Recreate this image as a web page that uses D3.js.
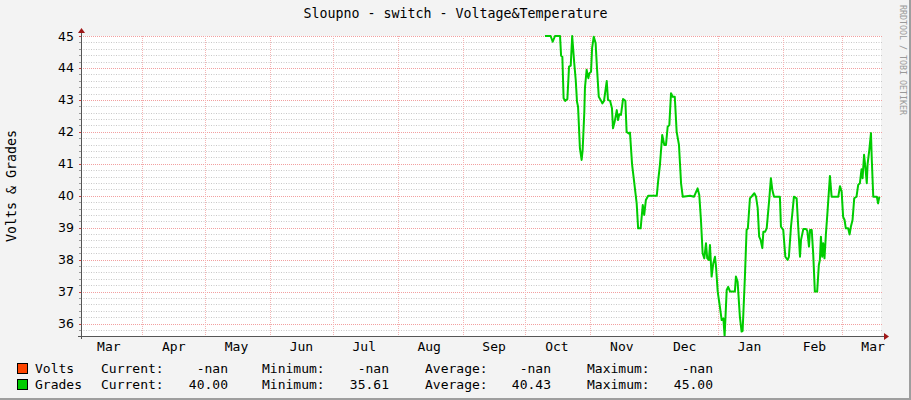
<!DOCTYPE html>
<html><head><meta charset="utf-8">
<script src="https://cdn.jsdelivr.net/npm/d3@7"></script>
<style>html,body{margin:0;padding:0;background:#F3F3F3;}svg{display:block;}</style>
</head><body><svg id="c" width="911" height="400"></svg>
<script>
// ---------- data ----------
const chartTitle = "Sloupno - switch - Voltage&Temperature";
const yAxisLabel = "Volts & Grades";
const watermark = "RRDTOOL / TOBI OETIKER";
const timeStart = "2018-03-02T17:00:00Z";
const timeEnd = "2019-03-19T19:00:00Z";
const seriesStart = "2018-10-01T00:00:00Z";
const yMin = 35.61, yMax = 45;
const yTickLabels = [36, 37, 38, 39, 40, 41, 42, 43, 44, 45];
// days since seriesStart
const gradesDays = [9.3,12.0,13.0,14.1,16.5,17.0,17.6,18.2,19.0,20.0,20.8,21.6,22.3,23.3,24.0,24.6,25.1,26.0,26.8,27.3,28.1,28.4,29.2,30.0,30.5,31.3,31.8,32.6,33.5,34.1,35.0,35.9,36.7,37.5,38.8,39.4,40.4,41.3,41.8,42.6,43.6,44.2,44.8,45.6,46.6,47.7,48.3,49.3,49.9,50.9,51.8,53.1,53.8,55.0,56.0,56.7,57.5,58.6,62.7,63.4,64.2,65.3,66.3,67.1,67.9,68.7,69.5,70.3,71.3,72.2,73.3,74.3,75.1,78.6,80.5,82.2,83.0,83.8,84.6,85.4,86.2,86.8,87.6,88.1,88.9,89.7,90.5,91.0,91.8,92.9,93.7,94.5,95.1,96.1,96.8,97.7,100.0,100.5,101.3,102.4,103.2,103.7,104.8,105.6,106.2,107.2,108.3,109.3,110.1,110.9,111.6,112.3,113.1,113.6,114.4,115.2,116.4,117.2,117.9,118.7,121.5,122.0,123.1,124.1,125.2,125.8,126.8,127.6,128.2,129.5,130.3,131.1,131.6,132.7,134.0,134.6,135.4,135.9,136.7,137.4,138.2,139.3,140.1,140.6,141.1,141.7,142.2,142.8,143.5,144.3,145.4,146.2,149.4,150.2,151.0,151.7,152.4,153.0,154.1,154.8,155.4,156.2,157.0,158.1,158.9,159.7,160.5,161.0,161.7,162.3,163.0,163.4,164.2,165.0,165.4,166.1,167.8,168.4,169.0];
const gradesValues = [45.0,45.0,44.82,45.0,45.0,44.38,44.35,43.05,42.97,43.03,44.04,44.07,45.0,44.14,43.62,42.94,42.79,41.48,41.12,41.43,42.63,43.38,43.94,43.68,43.83,43.88,44.61,44.98,44.77,44.04,43.1,43.0,42.89,42.97,43.59,43.0,42.97,42.74,42.11,42.32,42.68,42.37,42.55,42.53,43.03,42.97,42.0,41.95,41.98,40.98,40.49,39.76,38.98,38.98,39.71,39.4,39.87,40.0,40.0,40.49,40.96,41.9,41.59,41.59,42.16,42.21,43.21,43.1,43.1,42.0,41.59,40.39,39.97,40.0,39.97,40.23,40.02,39.24,38.2,38.04,38.51,38.04,37.99,38.46,37.47,37.89,38.09,37.78,37.0,36.5,36.11,36.16,35.61,37.05,37.15,37.0,37.0,37.47,37.31,36.21,35.75,35.77,37.47,38.93,38.98,39.92,40.0,40.08,39.97,39.61,38.72,38.62,38.36,38.87,38.87,38.98,39.87,40.55,40.18,39.97,39.97,39.03,38.93,38.09,37.99,38.09,39.03,39.55,39.97,39.92,38.98,38.09,38.62,38.96,38.96,38.9,38.41,38.93,38.93,38.2,37.0,37.0,37.83,37.99,38.72,38.09,38.51,38.04,38.82,39.55,40.62,39.97,39.97,40.3,40.13,39.34,39.24,38.98,38.98,38.79,39.03,39.24,39.92,39.97,40.34,40.39,40.83,40.55,41.28,40.91,40.39,41.0,41.43,41.96,41.12,39.97,39.97,39.76,39.97];
const legendNames = ["Volts", "Grades"];
const legendColors = ["#FF4500", "#00CC00"];
const legendCurrent = ["-nan", "40.00"];
const legendMinimum = ["-nan", "35.61"];
const legendAverage = ["-nan", "40.43"];
const legendMaximum = ["-nan", "45.00"];

// ---------- layout ----------
const svg = d3.select("#c");
const L = 81, T = 36, PW = 800, PH = 300;
const MONO = "'DejaVu Sans Mono', monospace";

const x = d3.scaleUtc().domain([new Date(timeStart), new Date(timeEnd)]).range([L, L + PW]);
const y = d3.scaleLinear().domain([yMin, yMax]).range([T + PH, T]);

// background + frame
svg.append("rect").attr("width", 911).attr("height", 400).attr("fill", "#F3F3F3");
svg.append("line").attr("x1", 0).attr("x2", 911).attr("y1", 399).attr("y2", 399).attr("stroke", "#9E9E9E").attr("stroke-width", 2);
svg.append("line").attr("x1", 910).attr("x2", 910).attr("y1", 0).attr("y2", 400).attr("stroke", "#9E9E9E").attr("stroke-width", 2);
svg.append("rect").attr("x", L).attr("y", T).attr("width", PW).attr("height", PH).attr("fill", "#FFFFFF");

// horizontal grid
const gridVals = d3.range(Math.ceil(yMin * 5), Math.floor(yMax * 5) + 1).map(i => i / 5);
const g = svg.append("g");
gridVals.forEach(v => {
  const major = Math.abs(v - Math.round(v)) < 1e-6;
  const yy = Math.round(y(v)) + 0.5;
  g.append("line").attr("x1", L).attr("x2", L + PW + 1).attr("y1", yy).attr("y2", yy)
    .attr("stroke", major ? "#F2A0A0" : "#C8C8C8").attr("stroke-width", 1)
    .attr("stroke-dasharray", major ? "1,1" : "1,1.5");
  g.append("line").attr("x1", L - 2).attr("x2", L).attr("y1", yy).attr("y2", yy)
    .attr("stroke", major ? "#D04040" : "#999").attr("stroke-width", 1);
});

// vertical month grid
const monthTicks = d3.utcMonth.range(d3.utcMonth.ceil(x.domain()[0]), x.domain()[1]);
monthTicks.forEach(d => {
  const xx = Math.round(x(d)) + 0.5;
  g.append("line").attr("x1", xx).attr("x2", xx).attr("y1", T).attr("y2", T + PH)
    .attr("stroke", "#F4B4B4").attr("stroke-width", 1).attr("stroke-dasharray", "1,1");
});

// month labels at mid-month
const labelMonths = d3.utcMonth.range(d3.utcMonth.floor(x.domain()[0]), x.domain()[1]);
const fmt = d3.utcFormat("%b");
labelMonths.forEach(d => {
  const mid = d3.utcDay.offset(d, 15);
  svg.append("text").attr("x", x(mid)).attr("y", 351).attr("text-anchor", "middle")
    .attr("font-family", MONO).attr("font-size", 13).attr("fill", "#000").text(fmt(d));
});

// y labels
yTickLabels.forEach(v => {
  svg.append("text").attr("x", 74).attr("y", y(v)).attr("dy", "0.36em").attr("text-anchor", "end")
    .attr("font-family", "'DejaVu Sans', sans-serif").attr("font-size", 12.5).attr("fill", "#000").text(v);
});

// data line
svg.append("clipPath").attr("id", "clip").append("rect").attr("x", L).attr("y", T - 1).attr("width", PW).attr("height", PH + 1);
const t0 = new Date(seriesStart).getTime();
const pts = gradesDays.map((d, i) => [new Date(t0 + d * 864e5), gradesValues[i]]);
svg.append("path").datum(pts).attr("clip-path", "url(#clip)")
  .attr("d", d3.line().x(p => x(p[0])).y(p => y(p[1])))
  .attr("fill", "none").attr("stroke", "#00CC00").attr("stroke-width", 2).attr("stroke-linejoin", "round");

// axes
svg.append("line").attr("x1", L - 3).attr("x2", L + PW + 4).attr("y1", T + PH + 0.5).attr("y2", T + PH + 0.5).attr("stroke", "#555").attr("stroke-width", 1);
svg.append("line").attr("x1", L + 0.5).attr("x2", L + 0.5).attr("y1", T + PH + 3).attr("y2", T - 4).attr("stroke", "#555").attr("stroke-width", 1);
svg.append("path").attr("d", `M${L + PW + 3},${T + PH - 3}L${L + PW + 8},${T + PH + 0.5}L${L + PW + 3},${T + PH + 4}Z`).attr("fill", "#A01818");
svg.append("path").attr("d", `M${L - 3},${T - 3}L${L + 0.5},${T - 8}L${L + 4},${T - 3}Z`).attr("fill", "#A01818");

// title
svg.append("text").attr("x", 455.5).attr("y", 18).attr("text-anchor", "middle")
  .attr("font-family", MONO).attr("font-size", 13.3).attr("fill", "#000").text(chartTitle);
// y axis label
svg.append("text").attr("transform", `translate(16,${T + PH / 2}) rotate(-90)`).attr("text-anchor", "middle")
  .attr("font-family", MONO).attr("font-size", 13.3).attr("fill", "#000").text(yAxisLabel);
// watermark
svg.append("text").attr("transform", "translate(900,5) rotate(90)").attr("text-anchor", "start")
  .attr("font-family", MONO).attr("font-size", 8.3).attr("fill", "#999").text(watermark);

// legend
legendNames.forEach((n, i) => {
  const by = 363 + i * 16;
  const base = by + 10;
  svg.append("rect").attr("x", 17.5).attr("y", by + 0.5).attr("width", 10).attr("height", 10)
    .attr("fill", legendColors[i]).attr("stroke", "#000").attr("stroke-width", 1);
  const tx = (xx, s, anchor) => svg.append("text").attr("x", xx).attr("y", base).attr("text-anchor", anchor || "start")
    .attr("font-family", MONO).attr("font-size", 13).attr("fill", "#000").text(s);
  tx(35, n);
  tx(101, "Current:"); tx(228, legendCurrent[i], "end");
  tx(262, "Minimum:"); tx(389, legendMinimum[i], "end");
  tx(425, "Average:"); tx(551, legendAverage[i], "end");
  tx(587, "Maximum:"); tx(713, legendMaximum[i], "end");
});
</script></body></html>
